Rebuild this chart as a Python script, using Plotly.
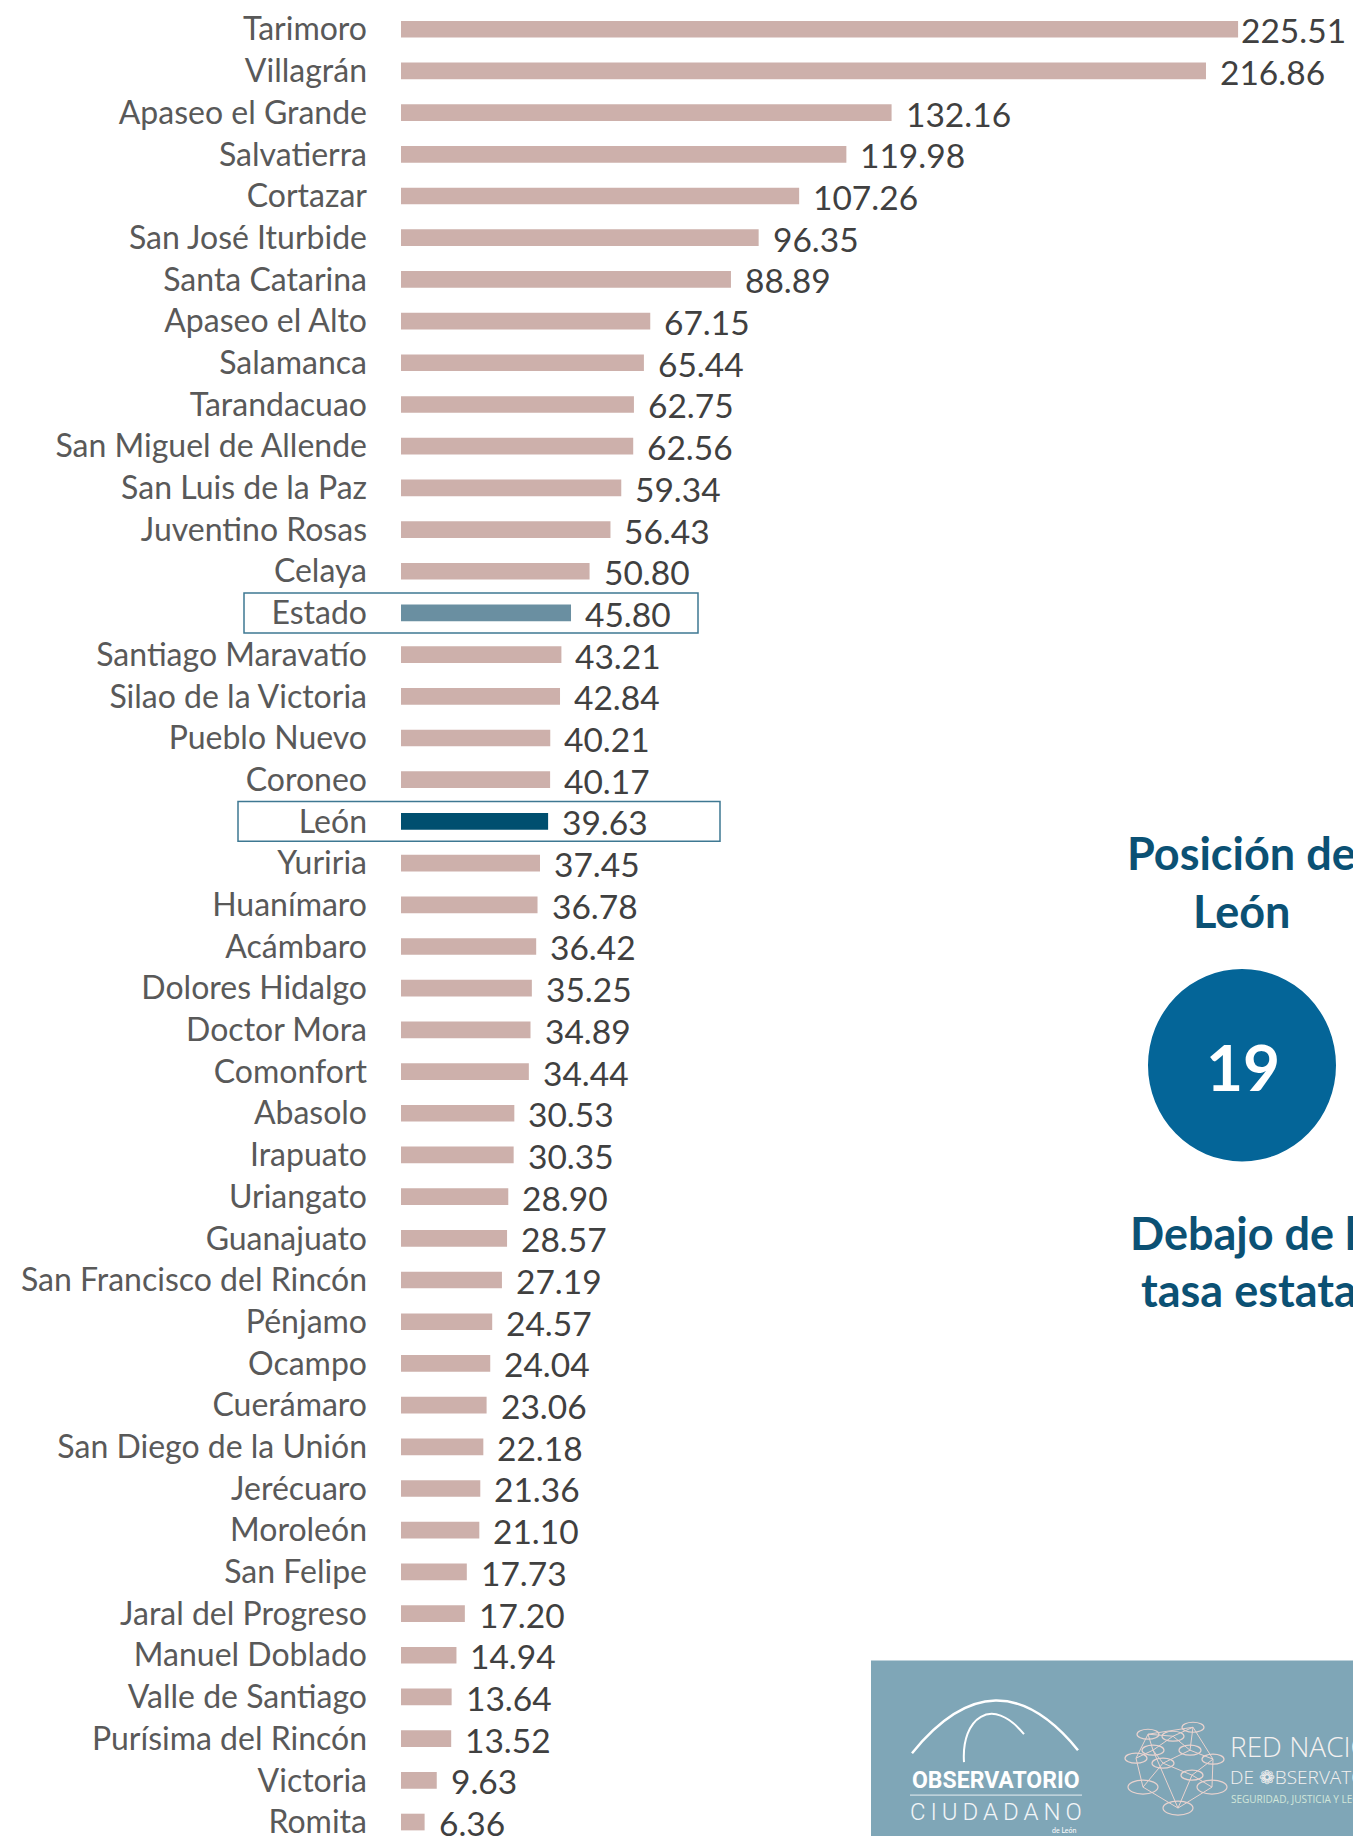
import plotly.graph_objects as go

# ---------------- data ----------------
categories = [
    "Tarimoro", "Villagrán", "Apaseo el Grande", "Salvatierra", "Cortazar",
    "San José Iturbide", "Santa Catarina", "Apaseo el Alto", "Salamanca",
    "Tarandacuao", "San Miguel de Allende", "San Luis de la Paz",
    "Juventino Rosas", "Celaya", "Estado", "Santiago Maravatío",
    "Silao de la Victoria", "Pueblo Nuevo", "Coroneo", "León", "Yuriria",
    "Huanímaro", "Acámbaro", "Dolores Hidalgo", "Doctor Mora", "Comonfort",
    "Abasolo", "Irapuato", "Uriangato", "Guanajuato", "San Francisco del Rincón",
    "Pénjamo", "Ocampo", "Cuerámaro", "San Diego de la Unión", "Jerécuaro",
    "Moroleón", "San Felipe", "Jaral del Progreso", "Manuel Doblado",
    "Valle de Santiago", "Purísima del Rincón", "Victoria", "Romita",
]
values = [
    225.51, 216.86, 132.16, 119.98, 107.26, 96.35, 88.89, 67.15, 65.44,
    62.75, 62.56, 59.34, 56.43, 50.80, 45.80, 43.21, 42.84, 40.21, 40.17,
    39.63, 37.45, 36.78, 36.42, 35.25, 34.89, 34.44, 30.53, 30.35, 28.90,
    28.57, 27.19, 24.57, 24.04, 23.06, 22.18, 21.36, 21.10, 17.73, 17.20,
    14.94, 13.64, 13.52, 9.63, 6.36,
]
position_label = "19"
title_lines = ["Posición de", "León"]
note_lines = ["Debajo de la", "tasa estatal"]

# ---------------- styles ----------------
BASE_COLOR = "#CDB0AB"
HIGHLIGHT = {"Estado": "#6A8FA1", "León": "#004F6F"}
BOX_COLOR = "#3E7892"
DARK_BLUE = "#0B5174"
CIRCLE_BLUE = "#046598"
LOGO_BG = "#7FA6B7"
FONT = "Lato"

W, H = 1353, 1840
ML = 401
PW = W - ML
PX_PER_UNIT = 3.712
XMAX = PW / PX_PER_UNIT
ROW_TOP_PX, ROW_BOTTOM_PX = 29.3, 1826.0
ROW_PX = (ROW_BOTTOM_PX - ROW_TOP_PX) / (len(categories) - 1)
R_TOP = -ROW_TOP_PX / ROW_PX
R_BOTTOM = R_TOP + H / ROW_PX


def px_x(px):
    return (px - ML) / PW


def px_y(py):
    return 1 - py / H


def row_center_px(idx):
    return (idx - R_TOP) * ROW_PX


colors = [HIGHLIGHT.get(c, BASE_COLOR) for c in categories]

fig = go.Figure(
    go.Bar(
        x=values,
        y=categories,
        orientation="h",
        marker=dict(color=colors, line=dict(width=0)),
        hoverinfo="skip",
    )
)

# value labels
annotations = []
for cat, v in zip(categories, values):
    end_px = ML + v * PX_PER_UNIT
    shift = min(12, max(1, W - 114 - end_px))
    annotations.append(dict(
        x=v, y=cat, xref="x", yref="y", text=f"{v:.2f}", showarrow=False,
        xanchor="left", yanchor="middle", xshift=shift, yshift=-1,
        font=dict(family=FONT, size=33.5, color="#404040"),
    ))

# right-side texts
for line, py in zip(title_lines, [855, 913]):
    annotations.append(dict(
        x=px_x(1241), y=px_y(py), xref="paper", yref="paper", text=f"<b>{line}</b>",
        showarrow=False, xanchor="center", yanchor="middle",
        font=dict(family=FONT, size=45, color=DARK_BLUE),
    ))
for line, py in zip(note_lines, [1236, 1293]):
    annotations.append(dict(
        x=px_x(1254), y=px_y(py), xref="paper", yref="paper", text=f"<b>{line}</b>",
        showarrow=False, xanchor="center", yanchor="middle",
        font=dict(family=FONT, size=45, color=DARK_BLUE),
    ))
annotations.append(dict(
    x=px_x(1243), y=px_y(1069), xref="paper", yref="paper", text=f"<b>{position_label}</b>",
    showarrow=False, xanchor="center", yanchor="middle",
    font=dict(family=FONT, size=64, color="white"),
))

shapes = []
# highlight boxes
for cat, (x0, x1) in {"Estado": (244, 698), "León": (238, 720)}.items():
    cy = row_center_px(categories.index(cat))
    shapes.append(dict(
        type="rect", xref="paper", yref="paper",
        x0=px_x(x0), x1=px_x(x1), y0=px_y(cy + 20), y1=px_y(cy - 20),
        line=dict(color=BOX_COLOR, width=1.5), fillcolor="rgba(0,0,0,0)",
    ))

# circle
shapes.append(dict(
    type="circle", xref="paper", yref="paper",
    x0=px_x(1148), x1=px_x(1336), y0=px_y(1164), y1=px_y(971),
    line=dict(width=0), fillcolor=CIRCLE_BLUE, layer="below",
))

# logo box
shapes.append(dict(
    type="rect", xref="paper", yref="paper",
    x0=px_x(871), x1=px_x(1353), y0=px_y(1840), y1=px_y(1664),
    line=dict(width=0), fillcolor=LOGO_BG, layer="below",
))


def path_px(cmds):
    out = []
    for c in cmds:
        if isinstance(c, str):
            out.append(c)
        else:
            out.append(f"{px_x(c[0]):.5f},{px_y(c[1]):.5f}")
    return " ".join(out)


# observatorio dome
shapes.append(dict(type="path", xref="paper", yref="paper",
                   path=path_px(["M", (912, 1757), "Q", (996, 1653), (1078, 1754)]),
                   line=dict(color="white", width=2.5)))
shapes.append(dict(type="path", xref="paper", yref="paper",
                   path=path_px(["M", (964, 1766), "C", (961, 1722), (992, 1698), (1024, 1738)]),
                   line=dict(color="white", width=2)))
shapes.append(dict(type="line", xref="paper", yref="paper",
                   x0=px_x(910), x1=px_x(1082), y0=px_y(1799), y1=px_y(1799),
                   line=dict(color="#E8EEF1", width=1)))

logo_texts = [
    dict(x=px_x(996), y=px_y(1784), text="<b>OBSERVATORIO</b>", xanchor="center",
         font=dict(family="Roboto", size=23, color="white")),
    dict(x=px_x(996), y=px_y(1816),
         text="C\u2009I\u2009U\u2009D\u2009A\u2009D\u2009A\u2009N\u2009O", xanchor="center",
         font=dict(family="Roboto", size=24, color="#F2F5F7", weight=300)),
    dict(x=px_x(1078), y=px_y(1834), text="de León", xanchor="right",
         font=dict(family=FONT, size=7, color="white")),
    dict(x=px_x(1228), y=px_y(1750), text="RED NACIONAL", xanchor="left",
         font=dict(family="Open Sans", size=28, color="#F4F1F0", weight=300)),
    dict(x=px_x(1228), y=px_y(1781), text="DE ❁BSERVATORIOS", xanchor="left",
         font=dict(family="Open Sans", size=19, color="#F4F1F0", weight=300)),
    dict(x=px_x(1229), y=px_y(1803), text="SEGURIDAD, JUSTICIA Y LEGALIDAD", xanchor="left",
         font=dict(family="Open Sans", size=10, color="#D2E6DA")),
]
for t in logo_texts:
    annotations.append(dict(xref="paper", yref="paper", showarrow=False, yanchor="middle", **t))

# network graphic of the second logo
nodes = [(1193, 1731), (1148, 1738), (1173, 1740), (1136, 1762), (1153, 1754),
         (1190, 1754), (1213, 1763), (1163, 1767), (1192, 1779), (1143, 1791),
         (1212, 1791), (1178, 1812)]
edges = [(0, 1), (0, 2), (1, 2), (1, 3), (1, 4), (2, 4), (2, 5), (0, 5), (0, 6),
         (3, 4), (4, 7), (5, 7), (5, 6), (6, 8), (7, 8), (3, 9), (9, 11), (8, 11),
         (6, 10), (10, 11), (7, 9), (8, 10), (4, 11)]
NET = "#EAD3CF"
for a, b in edges:
    shapes.append(dict(type="line", xref="paper", yref="paper",
                       x0=px_x(nodes[a][0]), y0=px_y(nodes[a][1]),
                       x1=px_x(nodes[b][0]), y1=px_y(nodes[b][1]),
                       line=dict(color=NET, width=1)))
for i, (nx, ny) in enumerate(nodes):
    rx, ry = (15, 7) if i >= 9 else (11, 5)
    shapes.append(dict(type="circle", xref="paper", yref="paper",
                       x0=px_x(nx - rx), x1=px_x(nx + rx), y0=px_y(ny + ry), y1=px_y(ny - ry),
                       line=dict(color=NET, width=1.2), fillcolor="rgba(0,0,0,0)"))

fig.update_layout(
    width=W, height=H,
    margin=dict(l=ML, r=0, t=0, b=0),
    paper_bgcolor="white", plot_bgcolor="white",
    bargap=0.6,
    showlegend=False,
    xaxis=dict(range=[0, XMAX], visible=False, fixedrange=True),
    yaxis=dict(
        range=[R_BOTTOM, R_TOP], type="category",
        showgrid=False, zeroline=False, showline=False, ticks="",
        ticklabelstandoff=33,
        tickfont=dict(family=FONT, size=32, color="#595959"),
        fixedrange=True,
    ),
    annotations=annotations,
    shapes=shapes,
)

fig.write_html(
    "out.html",
    config={"displayModeBar": False},
    post_script="document.body.style.margin='0';document.body.style.overflow='hidden';",
)
